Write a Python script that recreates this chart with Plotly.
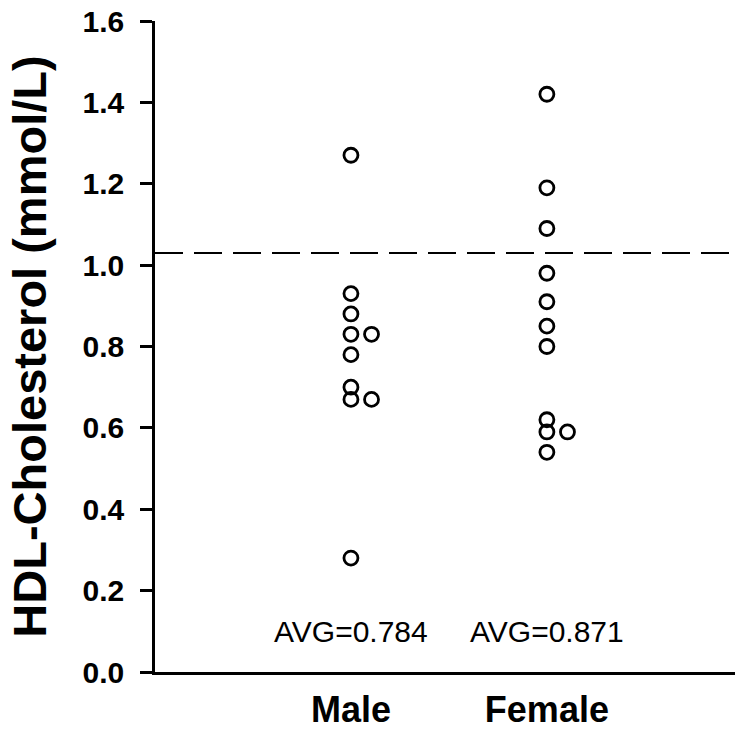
import plotly.graph_objects as go

groups = ["Male", "Female"]
male_values = [1.27, 0.93, 0.88, 0.83, 0.83, 0.78, 0.70, 0.67, 0.67, 0.28]
female_values = [1.42, 1.19, 1.09, 0.98, 0.91, 0.85, 0.80, 0.62, 0.59, 0.59, 0.54]
reference_level = 1.03
y_ticks = [0.0, 0.2, 0.4, 0.6, 0.8, 1.0, 1.2, 1.4, 1.6]

FONT = "Liberation Sans, Arial, sans-serif"

fig = go.Figure()
for gi, (name, vals) in enumerate(zip(groups, [male_values, female_values])):
    xs = []
    seen = {}
    for v in vals:
        k = seen.get(v, 0)
        xs.append(gi + 1 + 0.105 * k)
        seen[v] = k + 1
    fig.add_trace(go.Scatter(
        x=xs, y=vals, mode="markers", name=name,
        marker=dict(symbol="circle-open", size=14, color="black",
                    line=dict(width=2.8, color="black")),
        showlegend=False, hoverinfo="y"))
    avg = sum(vals) / len(vals)
    fig.add_annotation(x=gi + 1, y=0.1, xref="x", yref="y",
                       text=f"AVG={avg:.3f}", showarrow=False,
                       font=dict(family=FONT, size=30, color="black"))

fig.add_shape(type="line", xref="paper", yref="y", x0=0, x1=1,
              y0=reference_level, y1=reference_level,
              line=dict(color="black", width=2, dash="28px,11px"))

fig.update_layout(
    width=735, height=730,
    margin=dict(l=155, r=0, t=21, b=54),
    paper_bgcolor="white", plot_bgcolor="white",
    font=dict(family=FONT, color="black"),
    xaxis=dict(range=[0, 2.96], tickmode="array", tickvals=[1, 2],
               ticktext=groups, showgrid=False, zeroline=False,
               showline=True, linecolor="black", linewidth=2.5,
               ticks="", ticklabelstandoff=4,
               tickfont=dict(size=36, family=FONT, weight="bold")),
    yaxis=dict(range=[0, 1.6], tickmode="array", tickvals=y_ticks,
               ticktext=[f"{t:.1f}" for t in y_ticks],
               showgrid=False, zeroline=False, showline=True,
               linecolor="black", linewidth=2.5, ticks="outside",
               ticklen=12, tickwidth=2.5, tickcolor="black",
               ticklabelstandoff=10,
               tickfont=dict(size=30, family=FONT, weight="bold"),
               title=dict(text="HDL-Cholesterol (mmol/L)", standoff=22,
                          font=dict(size=47, family=FONT, weight="bold"))),
)

fig.write_html("out.html", config={"displayModeBar": False},
               post_script="document.body.style.margin='0';"
                           "document.body.style.overflow='hidden';")
